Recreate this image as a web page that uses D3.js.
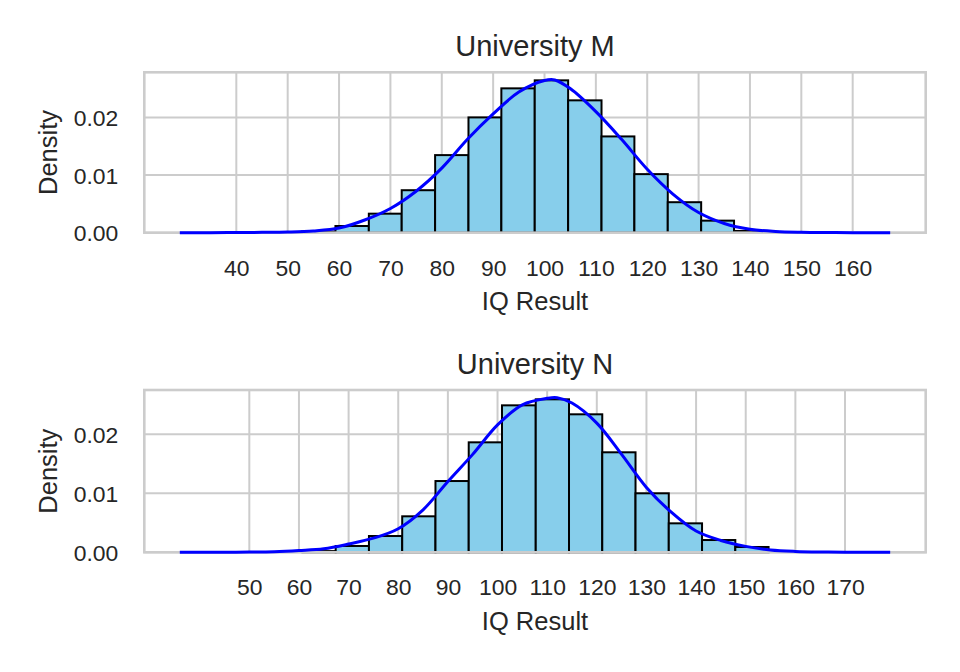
<!DOCTYPE html>
<html><head><meta charset="utf-8">
<script src="https://cdn.jsdelivr.net/npm/d3@7"></script>
<style>
body{margin:0;background:#fff}
svg{display:block}
text{font-family:"Liberation Sans",Arial,sans-serif;fill:#262626}
</style>
</head><body>
<svg id="chart" width="960" height="672"></svg>
<script>
// ---- data ----
const titles = ["University M", "University N"];
const xLabel = "IQ Result";
const yLabel = "Density";

const binEdgesM = [52.8, 59.3, 65.8, 72.2, 78.7, 85.2, 91.6, 98.1, 104.6, 111.1, 117.5, 124.0, 130.5, 136.9, 143.4];
const densityM  = [0.0002, 0.00116, 0.0033, 0.00737, 0.01346, 0.0200, 0.02504, 0.02643, 0.02296, 0.0167, 0.01016, 0.00529, 0.00209, 0.0003];

const binEdgesN = [60.7, 67.4, 74.1, 80.8, 87.5, 94.2, 100.9, 107.7, 114.4, 121.1, 127.8, 134.5, 141.2, 147.9, 154.6];
const densityN  = [0.0002, 0.00107, 0.00276, 0.0061, 0.01208, 0.01864, 0.02491, 0.02593, 0.02339, 0.01695, 0.0100, 0.00491, 0.00208, 0.0009];

const kdeXM = [29, 35, 40, 45, 50, 55, 60, 65, 70, 75, 80, 85, 90, 95, 100, 102, 105, 110, 115, 120, 125, 130, 135, 140, 145, 150, 155, 160, 167.3];
const kdeYM = [0, 0.00001, 0.00003, 0.00006, 0.00012, 0.0003, 0.0008, 0.0022, 0.0042, 0.0072, 0.0112, 0.0162, 0.0206, 0.0244, 0.0264, 0.0265, 0.0250, 0.0210, 0.0162, 0.0110, 0.0067, 0.0035, 0.0016, 0.0006, 0.00022, 0.00008, 0.00003, 0.00001, 0];

const kdeXN = [36, 40, 45, 50, 55, 60, 65, 70, 75, 80, 85, 90, 95, 100, 105, 110, 112, 115, 120, 125, 130, 135, 140, 145, 150, 155, 160, 165, 170, 179.1];
const kdeYN = [0, 0.00001, 0.00002, 0.00004, 0.0001, 0.0003, 0.0006, 0.0014, 0.0024, 0.0040, 0.0072, 0.0120, 0.0166, 0.0216, 0.0250, 0.0261, 0.0262, 0.0253, 0.0219, 0.0166, 0.0110, 0.0068, 0.0036, 0.0020, 0.0010, 0.0004, 0.00015, 0.00005, 0.00002, 0];

const xTicksM = [40, 50, 60, 70, 80, 90, 100, 110, 120, 130, 140, 150, 160];
const xTicksN = [50, 60, 70, 80, 90, 100, 110, 120, 130, 140, 150, 160, 170];
const yTicks = [0, 0.01, 0.02];

// ---- layout ----
const svg = d3.select("#chart");
const left = 144.3, right = 925.7;
const panels = [
  {title: titles[0], edges: binEdgesM, dens: densityM, kx: kdeXM, ky: kdeYM, ticks: xTicksM, top: 72.3, bottom: 232.7},
  {title: titles[1], edges: binEdgesN, dens: densityN, kx: kdeXN, ky: kdeYN, ticks: xTicksN, top: 390, bottom: 552.3}
];

panels.forEach(p => {
  const kMin = d3.min(p.kx), kMax = d3.max(p.kx);
  const pad = (kMax - kMin) * 0.05;
  const x = d3.scaleLinear().domain([kMin - pad, kMax + pad]).range([left, right]);
  const yMax = Math.max(d3.max(p.dens), d3.max(p.ky)) * 1.05;
  const y = d3.scaleLinear().domain([0, yMax]).range([p.bottom, p.top]);
  const g = svg.append("g");

  // grid
  g.append("g").selectAll("line.vx").data(p.ticks).join("line")
    .attr("x1", d => x(d)).attr("x2", d => x(d)).attr("y1", p.top).attr("y2", p.bottom)
    .attr("stroke", "#cccccc").attr("stroke-width", 2);
  g.append("g").selectAll("line.hy").data(yTicks).join("line")
    .attr("x1", left).attr("x2", right).attr("y1", d => y(d)).attr("y2", d => y(d))
    .attr("stroke", "#cccccc").attr("stroke-width", 2);

  // bars
  g.append("g").selectAll("rect").data(p.dens).join("rect")
    .attr("x", (d, i) => x(p.edges[i]))
    .attr("width", (d, i) => x(p.edges[i + 1]) - x(p.edges[i]))
    .attr("y", d => y(d))
    .attr("height", d => y(0) - y(d))
    .attr("fill", "#87ceeb").attr("stroke", "#000").attr("stroke-width", 2);

  // frame
  g.append("rect").attr("x", left).attr("y", p.top).attr("width", right - left).attr("height", p.bottom - p.top)
    .attr("fill", "none").attr("stroke", "#cccccc").attr("stroke-width", 2.6);

  // kde
  const line = d3.line().x(d => x(d[0])).y(d => y(d[1])).curve(d3.curveCatmullRom.alpha(0.5));
  g.append("path").datum(p.kx.map((v, i) => [v, p.ky[i]]))
    .attr("d", line).attr("fill", "none").attr("stroke", "#0000ff").attr("stroke-width", 3);

  // x ticks
  const xAxis = d3.axisBottom(x).tickValues(p.ticks).tickSize(0).tickPadding(0).tickFormat(d3.format("d"));
  const xa = g.append("g").attr("transform", `translate(0,${p.bottom})`).call(xAxis);
  xa.select(".domain").remove();
  xa.selectAll("text").attr("y", 43).attr("dy", null).attr("fill", "#262626")
    .style("font-size", "22.9px").style("font-family", '"Liberation Sans",Arial,sans-serif');

  // y ticks
  const yAxis = d3.axisLeft(y).tickValues(yTicks).tickSize(0).tickPadding(0).tickFormat(d3.format(".2f"));
  const ya = g.append("g").attr("transform", `translate(118.3,0)`).call(yAxis);
  ya.select(".domain").remove();
  ya.selectAll("text").attr("x", 0).attr("dy", "0.36em").attr("fill", "#262626")
    .style("font-size", "22.9px").style("font-family", '"Liberation Sans",Arial,sans-serif');

  // labels
  g.append("text").attr("x", (left + right) / 2).attr("y", p.top - 16).attr("text-anchor", "middle")
    .style("font-size", "29px").text(p.title);
  g.append("text").attr("x", (left + right) / 2).attr("y", p.bottom + 77.5).attr("text-anchor", "middle")
    .style("font-size", "25.5px").text(xLabel);
  g.append("text").attr("transform", `translate(57,${(p.top + p.bottom) / 2}) rotate(-90)`)
    .attr("text-anchor", "middle").style("font-size", "25.5px").text(yLabel);
});
</script>
</body></html>
